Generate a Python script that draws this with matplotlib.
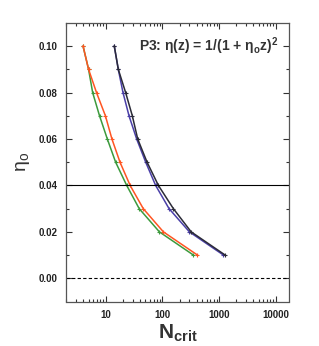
import matplotlib
matplotlib.use("Agg")
import matplotlib.pyplot as plt
from matplotlib.ticker import FixedLocator, NullFormatter, LogLocator

plt.rcParams['font.family'] = ['Liberation Sans', 'DejaVu Sans']

eta0 = [0.10, 0.09, 0.08, 0.07, 0.06, 0.05, 0.04, 0.03, 0.02, 0.01]
n_orange = [4.0, 5.0, 6.9, 9.9, 12.9, 17.9, 27, 46, 104, 415]
n_green = [4.0, 5.0, 5.9, 7.8, 10.7, 15.0, 23.5, 39, 88.5, 352]
n_blue = [14.2, 16.7, 20.2, 25.8, 35.2, 50.8, 76, 131, 299, 1191]
n_black = [14.2, 16.7, 22.5, 29.5, 36.7, 53.7, 85, 156, 321, 1276]

x_ticks = [10, 100, 1000, 10000]
x_tick_labels = ['10', '100', '1000', '10000']
y_ticks = [0.00, 0.02, 0.04, 0.06, 0.08, 0.10]
y_tick_labels = ['0.00', '0.02', '0.04', '0.06', '0.08', '0.10']

fig = plt.figure(figsize=(3.19, 3.46), dpi=100)
ax = fig.add_axes([66/319, 1-301.5/346, (289-66)/319, (301.5-23)/346])

series = [(n_green, '#3c9a3c'), (n_orange, '#ff5522'), (n_blue, '#4a3fa8'), (n_black, '#2b2b38')]
for xs, c in series:
    ax.plot(xs, eta0, color=c, lw=1.1, marker='+', ms=3.5, mew=0.8)

ax.axhline(0.04, color='black', lw=0.8)
ax.axhline(0.0, color='black', lw=0.8, ls=(0, (3, 2)))

ax.set_xscale('log')
ax.set_xlim(2, 17000)
ax.set_ylim(-0.01, 0.11)

ax.xaxis.set_major_locator(FixedLocator(x_ticks))
ax.set_xticklabels(x_tick_labels, fontweight='bold', fontsize=7)
ax.xaxis.set_minor_locator(LogLocator(base=10, subs=range(2, 10), numticks=20))
ax.xaxis.set_minor_formatter(NullFormatter())
ax.set_yticks(y_ticks)
ax.set_yticklabels(y_tick_labels, fontweight='bold', fontsize=7)
ax.yaxis.set_minor_locator(FixedLocator([0.01, 0.03, 0.05, 0.07, 0.09]))

ax.tick_params(which='both', direction='in', top=True, right=True, width=0.8, colors='#333333', labelcolor='#222222')
ax.tick_params(which='major', length=4, pad=6)
ax.tick_params(which='minor', length=2.5)
for s in ax.spines.values():
    s.set_linewidth(0.9)
    s.set_color('#555555')

ax.text(0.951, 0.915, r'P3: $\mathregular{\eta}$(z) = 1/(1 + $\mathregular{\eta_o}$z)$\mathregular{^2}$',
        transform=ax.transAxes, ha='right', va='center', fontsize=10, fontweight='bold', color='#333333')

ax.set_ylabel(r'$\mathregular{\eta_o}$', fontsize=14, color='#333333', labelpad=5)
ax.set_xlabel(r'$\mathregular{N_{crit}}$', fontsize=15, fontweight='bold', color='#333333', labelpad=2)

fig.savefig('out.png', dpi=100)
